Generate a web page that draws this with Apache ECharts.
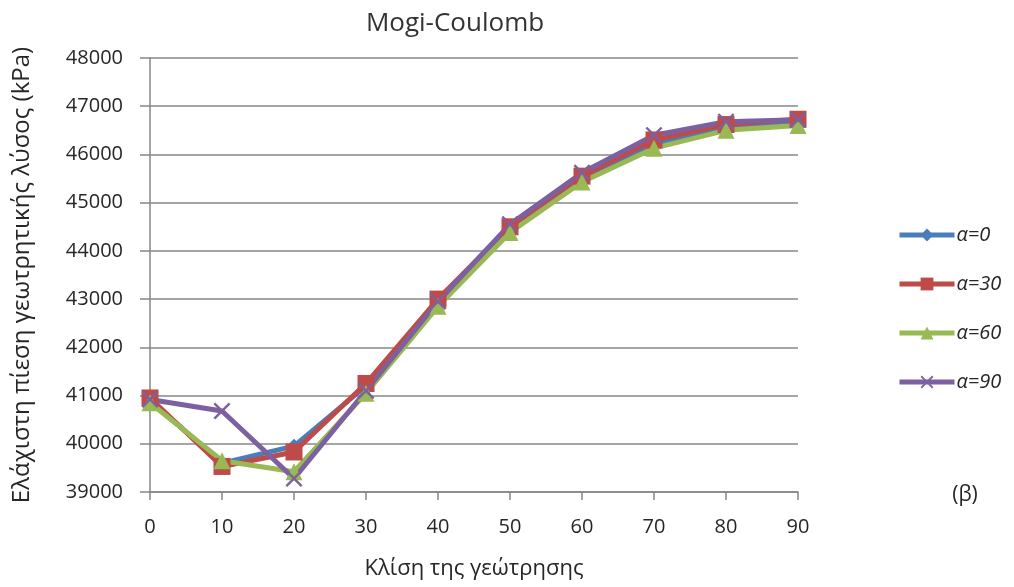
<!DOCTYPE html>
<html>
<head>
<meta charset="utf-8">
<script src="https://cdn.jsdelivr.net/npm/echarts@6/dist/echarts.min.js"></script>
<style>
  html, body { margin: 0; padding: 0; background: #ffffff; }
  #chart { width: 1014px; height: 587px; }
</style>
</head>
<body>
<div id="chart"></div>
<script>
// Borehole inclination (degrees)
const inclination = ['0', '10', '20', '30', '40', '50', '60', '70', '80', '90'];

// Minimum wellbore pressure (kPa) per orientation angle α
const alpha0  = [40900, 39600, 39950, 41200, 42900, 44450, 45500, 46200, 46580, 46680];
const alpha30 = [40950, 39530, 39830, 41250, 43000, 44500, 45550, 46300, 46620, 46730];
const alpha60 = [40850, 39650, 39420, 41050, 42850, 44380, 45430, 46130, 46500, 46600];
const alpha90 = [40920, 40680, 39280, 41100, 42950, 44550, 45620, 46400, 46680, 46720];

const seriesNames = ['α=0', 'α=30', 'α=60', 'α=90'];

const FONT = 'Open Sans';
const TEXT = '#262626';
const GRID = '#878787';

// X-shaped marker drawn as a filled outline
const crossPath = 'path://M0,1L1,0L5,4L9,0L10,1L6,5L10,9L9,10L5,6L1,10L0,9L4,5Z';

function makeSeries(name, data, color, symbol, size) {
  return {
    name: name,
    type: 'line',
    data: data,
    symbol: symbol,
    symbolSize: size,
    showAllSymbol: true,
    lineStyle: { color: color, width: 5 },
    itemStyle: { color: color, borderWidth: 0 },
    emphasis: { disabled: true },
    animation: false
  };
}

const chart = echarts.init(document.getElementById('chart'), null, { renderer: 'canvas' });

chart.setOption({
  backgroundColor: '#ffffff',
  animation: false,
  textStyle: { fontFamily: FONT },
  grid: { left: 150, right: 216, top: 58, bottom: 95, containLabel: false },
  legend: {
    orient: 'vertical',
    left: 897,
    top: 225,
    padding: 0,
    itemWidth: 55,
    itemHeight: 16,
    itemGap: 29,
    data: seriesNames,
    lineStyle: { width: 5 },
    textStyle: { fontFamily: FONT, fontSize: 20, fontStyle: 'italic', color: TEXT, padding: [0, 0, 0, -3] },
    selectedMode: false
  },
  xAxis: {
    type: 'category',
    data: inclination,
    boundaryGap: false,
    name: 'Κλίση της γεώτρησης',
    nameLocation: 'middle',
    nameGap: 66,
    nameTextStyle: { fontFamily: FONT, fontSize: 22, color: TEXT },
    axisLine: { show: true, lineStyle: { color: GRID, width: 1.5 } },
    axisTick: { show: true, length: 8, alignWithLabel: true, lineStyle: { color: GRID, width: 1.5 } },
    axisLabel: { margin: 25, fontFamily: FONT, fontSize: 20, color: TEXT },
    splitLine: { show: false }
  },
  yAxis: {
    type: 'value',
    min: 39000,
    max: 48000,
    interval: 1000,
    name: 'Ελάχιστη πίεση γεωτρητικής λύσος (kPa)',
    nameLocation: 'middle',
    nameGap: 116,
    nameTextStyle: { fontFamily: FONT, fontSize: 24, color: TEXT },
    axisLine: { show: true, lineStyle: { color: GRID, width: 1.5 } },
    axisTick: { show: true, length: 10, lineStyle: { color: GRID, width: 1.5 } },
    axisLabel: { margin: 27, fontFamily: FONT, fontSize: 20, color: TEXT, formatter: function (v) { return String(v); } },
    splitLine: { show: true, lineStyle: { color: GRID, width: 1.5 } }
  },
  graphic: [
    {
      type: 'text',
      style: {
        x: 455, y: 24,
        text: 'Mogi-Coulomb',
        fill: '#333333',
        font: '26px "Open Sans"',
        textAlign: 'center',
        textVerticalAlign: 'middle'
      }
    },
    {
      type: 'text',
      style: {
        x: 965, y: 495,
        text: '(β)',
        fill: TEXT,
        font: '21px "Open Sans"',
        textAlign: 'center',
        textVerticalAlign: 'middle'
      }
    }
  ],
  series: [
    makeSeries(seriesNames[0], alpha0, '#4A7EBB', 'diamond', 15),
    makeSeries(seriesNames[1], alpha30, '#BE4B48', 'rect', 17),
    makeSeries(seriesNames[2], alpha60, '#98B954', 'triangle', 17),
    makeSeries(seriesNames[3], alpha90, '#7D60A0', crossPath, 17)
  ]
});
</script>
</body>
</html>
